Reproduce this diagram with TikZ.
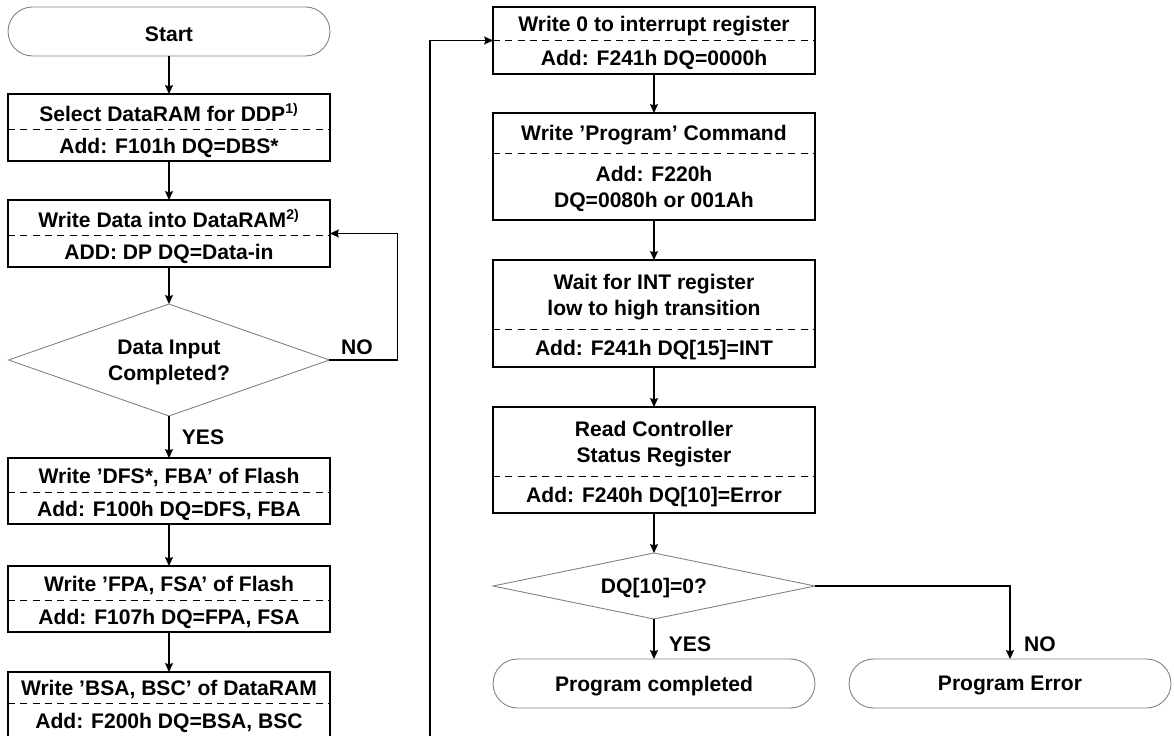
\documentclass[tikz,border=0pt]{standalone}
\usepackage{fontspec}
\setmainfont{Liberation Sans}
\usepackage{tikz}
\usetikzlibrary{shapes.geometric,calc,positioning,arrows.meta}

\tikzset{
	stepbox/.style={draw, line width=0.65pt, minimum width=6.44cm, inner sep=0pt, outer sep=0pt},
	endbox/.style={draw=black!50, line width=0.5pt, minimum width=6.44cm, minimum height=0.98cm, rounded corners=0.49cm, inner sep=0pt, outer sep=0pt},
	decision/.style={diamond, draw=black!50, line width=0.5pt, inner sep=0pt, outer sep=0pt},
	divider/.style={line width=0.5pt, dash pattern=on 4pt off 3pt},
	txt/.style={align=center, inner sep=0pt, yshift=-1.4pt, font=\fsize},
	flow/.style={-{Stealth[length=5pt, width=4.5pt, inset=0.6pt]}, line width=0.65pt}
}
\newcommand{\fsize}{\fontsize{12}{14.7}\selectfont\bfseries}
\newcommand{\splitbox}[7]{%
	\node[stepbox, minimum height={(#5-#3)*0.02cm}] (#1) at (#2,{(#3+#5)/2}) {};
	\draw[divider] (#1.west |- 0,#4) -- (#1.east |- 0,#4);
	\node[txt] (#1-top) at (#2,{(#3+#4)/2}) {#6};
	\node[txt] (#1-bot) at (#2,{(#4+#5)/2}) {#7};
}

\begin{document}
\begin{tikzpicture}[x=0.02cm, y=-0.02cm]
	\useasboundingbox (0,0) rectangle (1174,736);
	\node[endbox] (start) at (169,31.5) {};
	\node[txt] (start-txt) at (start) {Start};
	\splitbox{sel}{169}{94}{129}{161}{Select DataRAM for DDP\smash{\textsuperscript{1)}}}{Add: F101h DQ=DBS*}
	\splitbox{wrdata}{169}{200}{235}{267}{Write Data into DataRAM\smash{\textsuperscript{2)}}}{ADD: DP DQ=Data-in}
	\node[decision, minimum width=6.42cm, minimum height=2.24cm, aspect=2.87] (done) at (169,360) {};
	\node[txt] (done-txt) at (done) {Data Input\\Completed?};
	\splitbox{dfs}{169}{458}{492}{524}{Write ’DFS*, FBA’ of Flash}{Add: F100h DQ=DFS, FBA}
	\splitbox{fpa}{169}{566}{600}{632}{Write ’FPA, FSA’ of Flash}{Add: F107h DQ=FPA, FSA}
	\splitbox{bsa}{169}{672}{703}{738}{Write ’BSA, BSC’ of DataRAM}{Add: F200h DQ=BSA, BSC}

	\splitbox{clrint}{654}{7}{40}{74}{Write 0 to interrupt register}{Add: F241h DQ=0000h}
	\splitbox{prog}{654}{113}{153}{220}{Write ’Program’ Command}{Add: F220h\\DQ=0080h or 001Ah}
	\splitbox{wait}{654}{260}{329}{367}{Wait for INT register\\low to high transition}{Add: F241h DQ[15]=INT}
	\splitbox{status}{654}{407}{476}{513}{Read Controller\\Status Register}{Add: F240h DQ[10]=Error}
	\node[decision, minimum width=6.44cm, minimum height=1.32cm, aspect=4.88] (check) at (654,586) {};
	\node[txt] (check-txt) at (check) {DQ[10]=0?};
	\node[endbox] (ok) at (654,683.5) {};
	\node[txt] (ok-txt) at (ok) {Program completed};
	\node[endbox] (err) at (1010,683.5) {};
	\node[txt] (err-txt) at (err) {Program Error};

	\draw[flow] (start) -- (sel);
	\draw[flow] (sel) -- (wrdata);
	\draw[flow] (wrdata) -- (done);
	\draw[flow] (done.east) -- ++(68,0) |- (wrdata.east);
	\draw[flow] (done) -- (dfs);
	\draw[flow] (dfs) -- (fpa);
	\draw[flow] (fpa) -- (bsa);
	\coordinate (jump) at (430,740);
	\draw[flow] (jump) |- (clrint.west);
	\draw[flow] (clrint) -- (prog);
	\draw[flow] (prog) -- (wait);
	\draw[flow] (wait) -- (status);
	\draw[flow] (status) -- (check);
	\draw[flow] (check) -- (ok);
	\draw[flow] (check.east) -| (err.north);

	\node[txt] (no1) at (357,345) {NO};
	\node[txt] (yes1) at (203,435) {YES};
	\node[txt] (yes2) at (690,642) {YES};
	\node[txt] (no2) at (1040,642) {NO};
\end{tikzpicture}
\end{document}
